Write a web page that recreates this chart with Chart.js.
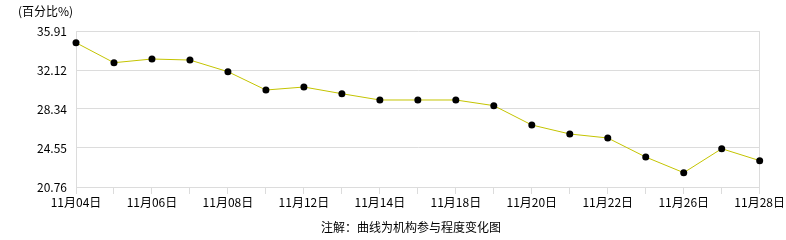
<!DOCTYPE html>
<html>
<head>
<meta charset="utf-8">
<script src="https://cdn.jsdelivr.net/npm/chart.js@4/dist/chart.umd.min.js"></script>
<style>
  body { margin: 0; background: #fff; }
  #wrap { position: relative; width: 786px; height: 240px; font-family: "Noto Sans CJK SC", sans-serif; font-size: 12px; color: #000; }
  #unit { position: absolute; left: 18px; top: 2px; }
  #note { position: absolute; left: 0; width: 822px; top: 218px; text-align: center; }
</style>
</head>
<body>
<div id="wrap">
  <canvas id="chart" width="786" height="240"></canvas>
  <div id="unit">(百分比%)</div>
  <div id="note">注解：曲线为机构参与程度变化图</div>
</div>
<script>
// trading days shown on the x axis
const dates = ['11月04日', '11月05日', '11月06日', '11月07日', '11月08日', '11月11日', '11月12日',
  '11月13日', '11月14日', '11月15日', '11月18日', '11月19日', '11月20日', '11月21日',
  '11月22日', '11月25日', '11月26日', '11月27日', '11月28日'];
// institutional participation (%)
const participation = [34.77, 32.83, 33.19, 33.09, 31.96, 30.18, 30.47, 29.82, 29.21, 29.21,
  29.21, 28.66, 26.78, 25.91, 25.52, 23.67, 22.15, 24.48, 23.32];
const yTicks = [20.76, 24.55, 28.34, 32.12, 35.91];

const ctx = document.getElementById('chart');
new Chart(ctx, {
  type: 'line',
  data: {
    labels: dates,
    datasets: [{
      data: participation,
      borderColor: '#c4c400',
      borderWidth: 1,
      pointRadius: 3.5,
      pointBackgroundColor: '#000',
      pointBorderColor: '#000',
      pointBorderWidth: 0,
      tension: 0,
      clip: false,
    }],
  },
  options: {
    responsive: false,
    animation: false,
    layout: { padding: { top: 31, right: 26, left: 0, bottom: 0 } },
    plugins: { legend: { display: false }, tooltip: { enabled: false } },
    scales: {
      x: {
        offset: false,
        afterFit: (s) => { s.height = 53; },
        grid: {
          color: (c) => (c.index === 0 || c.index === dates.length - 1 ? '#dcdcdc' : 'transparent'),
          tickColor: '#dcdcdc',
          tickLength: 7,
        },
        border: { color: '#dcdcdc' },
        ticks: {
          autoSkip: false,
          maxRotation: 0,
          padding: 1,
          color: '#000',
          font: { family: '"Noto Sans CJK SC", sans-serif', size: 12 },
          callback: (v, i) => (i % 2 === 0 ? dates[i] : ''),
        },
      },
      y: {
        min: yTicks[0],
        max: yTicks[yTicks.length - 1],
        afterFit: (s) => { s.width = 76; },
        afterBuildTicks: (s) => { s.ticks = yTicks.map((v) => ({ value: v })); },
        grid: { color: '#dcdcdc', drawTicks: false },
        border: { color: '#dcdcdc' },
        ticks: {
          padding: 9,
          color: '#000',
          font: { family: '"Noto Sans CJK SC", sans-serif', size: 12 },
          callback: (v) => v.toFixed(2),
        },
      },
    },
  },
});
</script>
</body>
</html>
